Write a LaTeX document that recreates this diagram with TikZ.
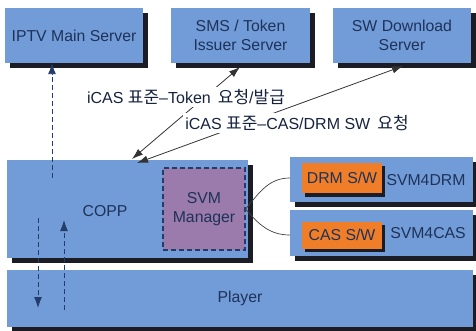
\documentclass[tikz,border=0pt]{standalone}
\usepackage{fontspec}
\setmainfont{Liberation Sans}
\newfontfamily\kr{Noto Sans CJK KR}
\newcommand{\hg}[1]{{\kr\fontsize{17}{19}\selectfont #1}}
\usetikzlibrary{arrows.meta,shadows}
\definecolor{boxblue}{RGB}{114,156,216}
\definecolor{boxorange}{RGB}{240,126,40}
\definecolor{boxpurple}{RGB}{155,122,172}
\definecolor{navy}{RGB}{30,50,90}
\definecolor{dashblue}{RGB}{35,60,105}
\definecolor{shade}{RGB}{28,28,36}
\begin{document}
\begin{tikzpicture}[x=1pt,y=-1pt,
  every node/.style={font=\fontsize{15.8}{19.5}\selectfont, text=navy},
  sbox/.style={draw=none, fill=boxblue, inner sep=0pt,
     drop shadow={shadow xshift=4.5pt, shadow yshift=-5pt, fill=shade, opacity=1}},
  obox/.style={draw=none, fill=boxorange, inner sep=0pt,
     drop shadow={shadow xshift=3pt, shadow yshift=-3.5pt, fill=shade, opacity=1}},
  svmbox/.style={draw=dashblue, line width=1.2pt, dash pattern=on 5pt off 3pt, fill=boxpurple, inner sep=0pt},
  dasharrow/.style={draw=dashblue, line width=0.9pt, dash pattern=on 5pt off 3pt, -{Latex[length=11pt,width=8pt]}},
  solidarrow/.style={draw=black!80, line width=0.8pt, {Latex[length=11pt,width=7.5pt]}-{Latex[length=11pt,width=7.5pt]}},
  lbl/.style={fill=white, inner sep=2pt, text=navy!70!black, font=\fontsize{16}{19}\selectfont},
  wire/.style={draw=black!75, line width=0.7pt}
]
\useasboundingbox (0,0) rectangle (476,331);
% top servers
\node[sbox, minimum width=138pt, minimum height=55pt, align=center] (iptv) at (74,35.5) {IPTV Main Server};
\node[sbox, minimum width=139pt, minimum height=55pt, align=center] (sms) at (240.5,35.5) {SMS / Token\\Issuer Server};
\node[sbox, minimum width=138pt, minimum height=55pt, align=center] (swd) at (402,35.5) {SW Download\\Server};
% player
\node[sbox, minimum width=466pt, minimum height=57pt] (player) at (240,298.5) {Player};
% COPP
\node[sbox, minimum width=241pt, minimum height=97pt] (copp) at (127.5,209) {};
\node (copplbl) at (105,211) {COPP};
\node[svmbox, minimum width=82pt, minimum height=82pt, align=center] (svm) at (204,209) {SVM\\Manager};
% right boxes
\node[sbox, minimum width=183pt, minimum height=45pt] (drm) at (381.5,179.5) {};
\node[obox, minimum width=80pt, minimum height=30pt] (drmsw) at (342,178) {DRM S/W};
\node (svmdrm) at (426,180) {SVM4DRM};
\node[sbox, minimum width=183pt, minimum height=46pt] (cas) at (381.5,233) {};
\node[obox, minimum width=80pt, minimum height=27pt] (cassw) at (342,235) {CAS S/W};
\node (svmcas) at (428,233) {SVM4CAS};
% wires
\draw[wire] (svm.east) to[out=50,in=180] (drm.west |- drmsw.west);
\draw[wire] (svm.east) to[out=-50,in=180] (cas.west |- cassw.west);
% dashed arrows
\coordinate (d1) at (52,178);
\draw[dasharrow] (d1) -- (iptv.south -| d1);
\coordinate (d2s) at (38,218);
\coordinate (d2e) at (38,308);
\draw[dasharrow] (d2s) -- (d2e);
\coordinate (d3s) at (64,310);
\coordinate (d3e) at (64,220);
\draw[dasharrow] (d3s) -- (d3e);
% solid arrows
\coordinate (a1s) at (240,67);
\coordinate (a1e) at (132,159);
\coordinate (a2s) at (403,66);
\coordinate (a2e) at (137,163);
\draw[solidarrow] (a1e) -- (a1s);
\draw[solidarrow] (a2e) -- (a2s);
\node[lbl] (l1) at (186,97) {iCAS \hg{표준}–Token\, \hg{요청}/\hg{발급}};
\node[lbl] (l2) at (297,123) {iCAS \hg{표준}–CAS/DRM SW\, \hg{요청}};
\end{tikzpicture}
\end{document}
